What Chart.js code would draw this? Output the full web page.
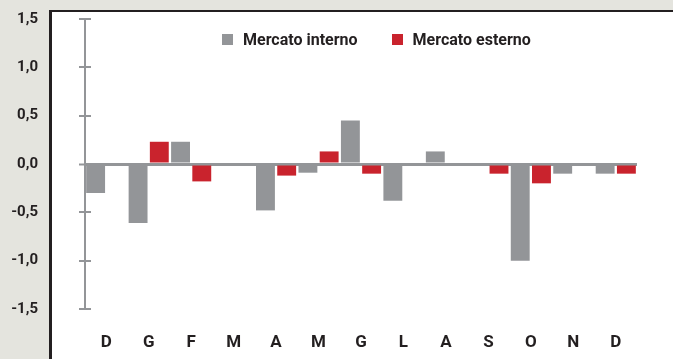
<!DOCTYPE html>
<html>
<head>
<meta charset="utf-8">
<script src="https://cdn.jsdelivr.net/npm/chart.js@4/dist/chart.umd.min.js"></script>
<style>
  html, body { margin: 0; padding: 0; }
  body { width: 673px; height: 359px; background: #e4e4de; position: relative; overflow: hidden; }
  #panel {
    position: absolute; left: 49px; top: 10px; right: 0; bottom: 0;
    background: #ffffff; border-left: 3px solid #231f20; border-top: 2px solid #231f20;
  }
  #wrap { position: absolute; left: 0; top: 0; width: 673px; height: 359px; }
  #legend {
    position: absolute; left: 222px; top: 30px; display: flex; align-items: center;
    font: bold 16px Roboto, "Liberation Sans", sans-serif; color: #231f20;
  }
  #legend .item { display: flex; align-items: center; margin-right: 34px; }
  #legend .box { width: 11px; height: 11px; margin-right: 10px; }
</style>
</head>
<body>
<div id="panel"></div>
<div id="wrap"><canvas id="c" width="673" height="359"></canvas></div>
<div id="legend"></div>
<script>
// Months (Dec to Dec)
const categories = ['D', 'G', 'F', 'M', 'A', 'M', 'G', 'L', 'A', 'S', 'O', 'N', 'D'];
const seriesNames = ['Mercato interno', 'Mercato esterno'];
const mercatoInterno = [-0.30, -0.61, 0.23, null, -0.48, -0.09, 0.45, -0.38, 0.13, null, -1.00, -0.10, -0.10];
const mercatoEsterno = [null, 0.23, -0.18, null, -0.12, 0.13, -0.10, null, null, -0.10, -0.20, null, -0.10];
const yTicks = [1.5, 1.0, 0.5, 0.0, -0.5, -1.0, -1.5];

const GREY = '#939598';
const RED = '#c9232d';
const INK = '#231f20';
const FONT = 'Roboto, "Liberation Sans", sans-serif';

// short marks on the right side of the axis line, completing the tick crosses
const axisCross = {
  id: 'axisCross',
  afterDraw(chart) {
    const s = chart.scales.y;
    const ctx = chart.ctx;
    ctx.save();
    ctx.strokeStyle = GREY;
    ctx.lineWidth = 2;
    s.ticks.forEach((t, i) => {
      if (t.value === 0) return;
      const y = Math.round(s.getPixelForTick(i));
      ctx.beginPath();
      ctx.moveTo(s.right, y);
      ctx.lineTo(s.right + 6, y);
      ctx.stroke();
    });
    ctx.restore();
  }
};

const chart = new Chart(document.getElementById('c'), {
  type: 'bar',
  data: {
    labels: categories,
    datasets: [
      { label: seriesNames[0], data: mercatoInterno, backgroundColor: GREY },
      { label: seriesNames[1], data: mercatoEsterno, backgroundColor: RED }
    ]
  },
  options: {
    responsive: false,
    animation: false,
    layout: { padding: { top: 19, right: 36, bottom: 0, left: 0 } },
    datasets: { bar: { categoryPercentage: 1.0, barPercentage: 0.89 } },
    plugins: { legend: { display: false }, tooltip: { enabled: false } },
    scales: {
      x: {
        grid: { display: false },
        border: { display: false },
        ticks: { color: INK, font: { family: FONT, size: 17, weight: 'bold' }, padding: 16, maxRotation: 0 },
        afterFit(scale) { scale.height = 50; }
      },
      y: {
        min: -1.5, max: 1.5, z: 1,
        afterBuildTicks(scale) { scale.ticks = yTicks.map(v => ({ value: v })); },
        afterFit(scale) {
          scale.width = 85;
          scale.paddingTop = 0;
          scale.paddingBottom = 0;
        },
        border: { display: true, color: GREY, width: 2 },
        grid: {
          drawOnChartArea: true,
          color: c => (c.tick && c.tick.value === 0) ? GREY : 'rgba(0,0,0,0)',
          lineWidth: c => (c.tick && c.tick.value === 0) ? 3 : 2,
          tickColor: GREY, tickLength: 6, tickWidth: 2
        },
        ticks: {
          color: INK, padding: 41,
          font: { family: FONT, size: 15, weight: 'bold' },
          callback: v => v.toFixed(1).replace('.', ',')
        }
      }
    }
  },
  plugins: [axisCross]
});

// legend built from the datasets
const lg = document.getElementById('legend');
chart.data.datasets.forEach(ds => {
  const item = document.createElement('div');
  item.className = 'item';
  const box = document.createElement('span');
  box.className = 'box';
  box.style.background = ds.backgroundColor;
  const txt = document.createElement('span');
  txt.textContent = ds.label;
  item.appendChild(box);
  item.appendChild(txt);
  lg.appendChild(item);
});
</script>
</body>
</html>
